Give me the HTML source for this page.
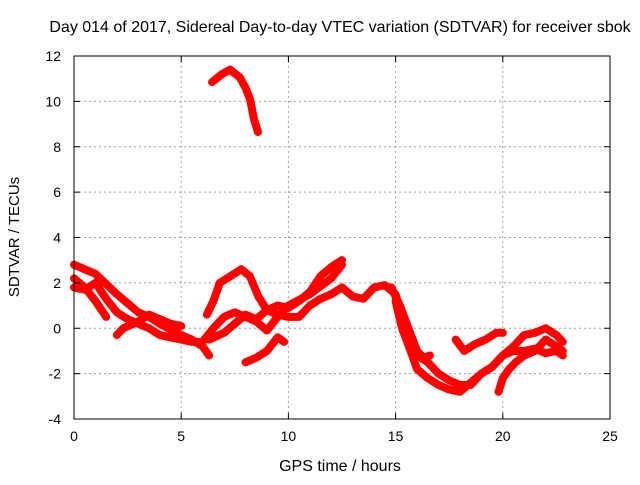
<!DOCTYPE html>
<html><head><meta charset="utf-8"><style>
body{margin:0;background:#fff;font-family:"Liberation Sans",sans-serif}
svg text{font-family:"Liberation Sans",sans-serif;font-size:14px;fill:#000}
</style></head><body>
<svg id="c" width="640" height="480">
<text x="340" y="32" text-anchor="middle" style="font-size:16px">Day 014 of 2017, Sidereal Day-to-day VTEC variation (SDTVAR) for receiver sbok</text>
<text x="340" y="471" text-anchor="middle" style="font-size:16px">GPS time / hours</text>
<text transform="translate(19,237) rotate(-90)" text-anchor="middle" style="font-size:15px">SDTVAR / TECUs</text>
<g id="grid"></g><g id="series"></g><g id="axes"></g>
</svg>
<script>
const xTicks=[0,5,10,15,20,25];
const yTicks=[-4,-2,0,2,4,6,8,10,12];
const s1=[[6.44,10.85],[6.9,11.2],[7.28,11.4],[7.74,11.05],[8.0,10.6],[8.21,10.1],[8.4,9.2],[8.58,8.65]];
const s2=[[0,2.8],[0.5,2.6],[1,2.4],[2,1.5],[3,0.7],[3.5,0.5],[4,0.2],[5,-0.3],[5.5,-0.5],[6,-0.8],[6.3,-1.2]];
const s3=[[0,1.8],[0.5,1.7],[1,2.0],[1.5,1.3],[2,0.7],[2.5,0.4],[3,0.2],[3.5,0],[4,-0.3],[5,-0.5],[5.5,-0.6],[6,-0.6],[6.5,0],[7,0.5],[7.5,0.7],[8,0.5],[8.5,0.3],[9,-0.1],[9.5,0.5],[10,1.0],[11,1.5],[12,2.2],[12.5,2.8]];
const s4=[[0,2.2],[0.5,1.8],[1,1.2],[1.5,0.5]];
const s5=[[2,-0.3],[2.3,0],[3,0.3],[3.5,0.6],[4,0.4],[4.5,0.2],[5,0.1]];
const s6=[[6.2,0.6],[6.5,1.2],[6.8,2.0],[7.3,2.3],[7.8,2.6],[8.2,2.3],[8.6,1.4],[9,0.8],[9.5,1.0],[10,0.9],[10.5,1.2],[11,1.6],[11.5,2.3],[12,2.7],[12.5,3.0]];
const s7=[[6.3,-0.5],[7,-0.2],[7.5,0.2],[8,0.6],[8.5,0.4],[9,0.8],[9.5,0.6],[10,0.5],[10.5,0.5],[11,1.0],[11.5,1.3],[12,1.5],[12.5,1.8],[13,1.4],[13.5,1.3],[14,1.8],[14.5,1.9],[15,1.5],[15.3,0.5],[15.6,-0.5],[16,-1.2],[16.5,-1.5],[17,-2.0],[17.5,-2.3],[18,-2.5],[18.5,-2.5],[19,-2.0],[19.5,-1.7],[20,-1.2],[20.5,-1.0],[21,-1.0],[21.5,-0.9],[22,-1.1],[22.5,-1.0],[22.8,-1.2]];
const s8=[[8,-1.5],[8.5,-1.3],[9,-1.0],[9.5,-0.4],[9.8,-0.6]];
const s9=[[15,1.2],[15.3,0],[15.7,-1.0],[16,-1.8],[16.5,-2.2],[17,-2.5],[17.5,-2.7],[18,-2.8],[18.5,-2.4],[19,-2.0],[19.5,-1.7],[20,-1.2],[20.5,-0.8],[21,-0.3],[21.5,-0.2],[22,0],[22.5,-0.3],[22.8,-0.6]];
const s10=[[17.8,-0.5],[18.2,-1.0],[18.7,-0.7],[19.2,-0.5],[19.7,-0.2],[20,-0.2]];
const s11=[[19.8,-2.8],[20,-2.2],[20.3,-1.8],[20.6,-1.5],[21,-1.2],[21.5,-1.0],[22,-0.5],[22.5,-0.8],[22.8,-1.0]];
const s12=[[14.8,1.8],[15.2,1.0],[15.6,0],[16,-1.0],[16.3,-1.3],[16.6,-1.2]];
const allSeries=[s1,s2,s3,s4,s5,s6,s7,s8,s9,s10,s11,s12];
const X0=74,X1=610,Y0=419,Y1=56;
const xs=v=>X0+(v-0)/25*(X1-X0);
const ys=v=>Y0-(v+4)/16*(Y0-Y1);
const NS="http://www.w3.org/2000/svg";
function mk(t,a,p){const e=document.createElementNS(NS,t);for(const k in a)e.setAttribute(k,a[k]);p.appendChild(e);return e;}
const grid=document.getElementById('grid'),axes=document.getElementById('axes'),ser=document.getElementById('series');
xTicks.forEach(t=>{const x=xs(t);
 if(t>0&&t<25){const g=mk('line',{x1:x,x2:x,y1:Y1,y2:Y0,stroke:'#a0a0a0','stroke-dasharray':'2,3'},grid);
 }
 mk('line',{x1:x,x2:x,y1:Y0,y2:Y0-6,stroke:'#000'},axes);mk('line',{x1:x,x2:x,y1:Y1,y2:Y1+6,stroke:'#000'},axes);
 const l=mk('text',{x:x,y:Y0+22,'text-anchor':'middle'},axes);l.textContent=t;
 });
yTicks.forEach(t=>{const y=ys(t);
 if(t>-4&&t<12){const g=mk('line',{x1:X0,x2:X1,y1:y,y2:y,stroke:'#a0a0a0','stroke-dasharray':'2,3'},grid);
 }
 mk('line',{x1:X0,x2:X0+6,y1:y,y2:y,stroke:'#000'},axes);mk('line',{x1:X1,x2:X1-6,y1:y,y2:y,stroke:'#000'},axes);
 const l=mk('text',{x:X0-13,y:y+5,'text-anchor':'end'},axes);l.textContent=t;
 });
const box=mk('rect',{x:X0,y:Y1,width:X1-X0,height:Y0-Y1,fill:'none',stroke:'#000'},axes);

allSeries.forEach((s,i)=>{
 const p=mk('polyline',{points:s.map(d=>xs(d[0])+','+ys(d[1])).join(' '),fill:'none',stroke:'#ff0000','stroke-width':8,'stroke-linejoin':'round','stroke-linecap':'round'},ser);
 
 
});
</script>
</body></html>
